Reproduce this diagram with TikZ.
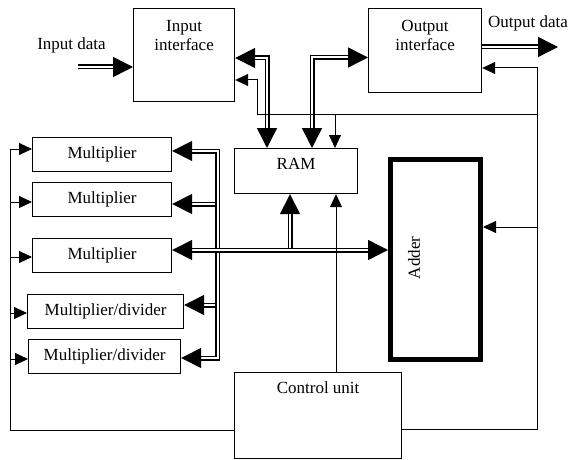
\documentclass[tikz,border=0pt]{standalone}
\usepackage{fontspec}
\setmainfont{Liberation Serif}
\usetikzlibrary{arrows.meta,positioning}

\begin{document}
\begin{tikzpicture}[
  x=1pt, y=-1pt,
  font=\fontsize{17}{19}\selectfont,
  box/.style={
    rectangle,
    draw,
    line width=1.2pt,
    anchor=north west,
    inner sep=2pt
  },
  mult/.style={box, minimum height=34pt},
  caption/.style={inner sep=0pt, align=center},
  wire/.style={line width=1pt, -{Triangle[length=13pt, width=12pt]}},
  bus/.style={line width=1.5pt, double=white, double distance=2pt},
  busarrow/.style={bus, -{Triangle[length=20pt, width=20pt]}},
  busboth/.style={bus, {Triangle[length=20pt, width=20pt]}-{Triangle[length=20pt, width=20pt]}}
]
\useasboundingbox (0,0) rectangle (573,460);

\node[box, minimum width=101pt, minimum height=93pt] (inif) at (133,8) {};
\node[caption, below=12pt of inif.north] (iniftext) {Input\\interface};
\node[box, minimum width=113pt, minimum height=84pt] (outif) at (368,8) {};
\node[caption, below=12pt of outif.north] (outiftext) {Output\\interface};
\node[box, minimum width=123pt, minimum height=45pt] (ram) at (234,148) {};
\node[caption, below=10pt of ram.north] (ramtext) {RAM};
\node[box, line width=5pt, minimum width=90pt, minimum height=200pt] (adder) at (388,157) {};
\node[rotate=90] (addertext) at (414,258) {Adder};
\node[box, minimum width=167pt, minimum height=86pt] (ctrl) at (234,372) {};
\node[caption, below=10pt of ctrl.north] (ctrltext) {Control unit};

\node[mult, minimum width=139pt] (m1) at (32,137) {Multiplier};
\node[mult, minimum width=139pt] (m2) at (32,182) {Multiplier};
\node[mult, minimum width=139pt] (m3) at (32,238) {Multiplier};
\node[mult, minimum width=156pt] (md1) at (27,294) {Multiplier/divider};
\node[mult, minimum width=152pt] (md2) at (28,339) {Multiplier/divider};

\node[anchor=base] (indata) at (71.5,49.5) {Input data};
\node[anchor=base] (outdata) at (528,28) {Output data};

\coordinate (instart) at (78,67);
\coordinate (outend) at (558,47);
\coordinate (rtop) at (537,68);
\coordinate (rbot) at (537,429);
\coordinate (ltop) at (257,114);
\coordinate (tap) at (335,114);
\coordinate (lbot) at (10,430);
\coordinate (bustop) at (217.5,151);
\coordinate (busbot) at (217.5,358);
\coordinate (j2) at (215,204);
\coordinate (j4) at (215,305);
\coordinate (jram) at (290,248);

% data paths
\draw[busarrow] (instart) -- (inif.west |- instart);
\draw[busarrow] (outif.east |- outend) -- (outend);
\draw[busboth] (inif.east |- 0,58) -| (ram.north -| 267,0);
\draw[busboth] (ram.north -| 312,0) |- (outif.west |- 0,57.5);
\draw[busboth] (m1.east |- bustop) -- (bustop) -- (busbot) -- (md2.east |- busbot);
\draw[busarrow] (j2) -- (m2.east |- j2);
\draw[busarrow] (j4) -- (md1.east |- j4);
\draw[busboth] (m3.east |- 0,250) -- (adder.west |- 0,250);
\draw[busarrow] (jram) -- (ram.south -| jram);

% control lines
\draw[wire] (ctrl.east |- rbot) -- (rbot) -- (rtop) -- (outif.east |- rtop);
\draw[wire] (rtop |- 0,227) -- (adder.east |- 0,227);
\draw[wire] (rtop |- ltop) -- (ltop) |- (inif.east |- 0,80);
\draw[wire] (tap) -- (ram.north -| tap);
\draw[wire] (ctrl.north -| 336,0) -- (ram.south -| 336,0);
\draw[wire] (ctrl.west |- lbot) -- (lbot) |- (m1.west |- 0,149);
\draw[wire] (lbot |- 0,202) -- (m2.west |- 0,202);
\draw[wire] (lbot |- 0,257) -- (m3.west |- 0,257);
\draw[wire] (lbot |- 0,313) -- (md1.west |- 0,313);
\draw[wire] (lbot |- 0,359) -- (md2.west |- 0,359);
\end{tikzpicture}
\end{document}
